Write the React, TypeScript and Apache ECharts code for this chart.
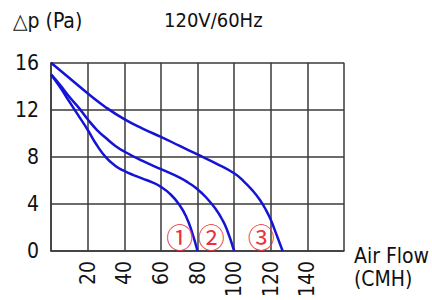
import React, { useEffect, useRef } from "react";
import * as echarts from "echarts";

const FONT = '"DejaVu Sans Condensed", "Liberation Sans", sans-serif';

const yTitle = "△p (Pa)";
const chartTitle = "120V/60Hz";
const xTitle = "Air Flow\n(CMH)";

const xTicks = [0, 20, 40, 60, 80, 100, 120, 140, 160];
const yTicks = [0, 4, 8, 12, 16];

// Curve 1 (lowest speed)
const curve1: [number, number][] = [
  [0, 15.0], [5, 13.9], [10, 12.7], [15, 11.5], [20, 10.3], [25, 9.0], [30, 7.95],
  [35, 7.25], [40, 6.8], [45, 6.45], [50, 6.15], [55, 5.85], [60, 5.45], [65, 4.85],
  [70, 3.95], [74, 2.85], [77, 1.6], [80, 0],
];
// Curve 2 (medium speed)
const curve2: [number, number][] = [
  [0, 15.0], [5, 14.1], [10, 13.1], [15, 12.2], [20, 11.2], [25, 10.3], [30, 9.6],
  [35, 8.95], [40, 8.45], [50, 7.65], [60, 6.95], [70, 6.25], [75, 5.8], [80, 5.25],
  [85, 4.5], [90, 3.55], [93, 2.8], [96, 1.85], [100, 0],
];
// Curve 3 (high speed)
const curve3: [number, number][] = [
  [0, 16.0], [10, 14.7], [20, 13.4], [30, 12.2], [40, 11.2], [50, 10.4], [60, 9.7],
  [70, 8.95], [80, 8.2], [90, 7.45], [100, 6.6], [105, 5.95], [110, 5.15], [114, 4.35],
  [117.5, 3.45], [120, 2.65], [123, 1.45], [126.5, 0],
];

const markers = [
  { name: "①", coord: [70.3, 1.25] },
  { name: "②", coord: [87.5, 1.25] },
  { name: "③", coord: [114.8, 1.25] },
];

const BLUE = "#1414d4";
const GRID = "#3a3a3a";

export default function App() {
  const ref = useRef<HTMLDivElement>(null);
  useEffect(() => {
    if (!ref.current) return;
    const chart = echarts.init(ref.current, null, { renderer: "svg" });
    const lineSeries = (data: [number, number][], withMarks: boolean) => ({
      type: "line",
      data,
      smooth: 0.5,
      symbol: "none",
      clip: false,
      lineStyle: { color: BLUE, width: 2.5 },
      ...(withMarks
        ? {
            markPoint: {
              symbol: "circle",
              symbolSize: 0,
              label: {
                show: true,
                position: "inside",
                formatter: (p: any) => p.name,
                color: "#e8323c",
                fontSize: 27,
                fontFamily: '"Noto Sans CJK JP", sans-serif',
              },
              data: markers.map((m) => ({ name: m.name, coord: m.coord })),
            },
          }
        : {}),
    });
    chart.setOption({
      animation: false,
      backgroundColor: "#ffffff",
      grid: { left: 51, right: 88, top: 62.7, bottom: 43.3, containLabel: false },
      xAxis: {
        type: "value",
        min: xTicks[0],
        max: xTicks[xTicks.length - 1],
        interval: 20,
        axisLine: { show: true, lineStyle: { color: GRID, width: 1.5 } },
        axisTick: { show: false },
        splitLine: { show: true, lineStyle: { color: GRID, width: 1.5 } },
        axisLabel: {
          rotate: 90,
          margin: 10,
          color: "#111",
          fontSize: 21,
          fontFamily: FONT,
          formatter: (v: number) => (v === xTicks[0] || v === xTicks[xTicks.length - 1] ? "" : String(v)),
        },
      },
      yAxis: {
        type: "value",
        min: yTicks[0],
        max: yTicks[yTicks.length - 1],
        interval: 4,
        axisLine: { show: true, lineStyle: { color: GRID, width: 1.5 } },
        axisTick: { show: false },
        splitLine: { show: true, lineStyle: { color: GRID, width: 1.5 } },
        axisLabel: {
          margin: 12,
          color: "#111",
          fontSize: 21,
          fontFamily: FONT,
        },
      },
      graphic: [
        {
          type: "text",
          left: 13,
          top: 10,
          style: { text: yTitle, fontSize: 21, fontFamily: FONT, fill: "#111" },
        },
        {
          type: "text",
          left: 164,
          top: 10,
          style: { text: chartTitle, fontSize: 20, fontFamily: FONT, fill: "#111" },
        },
        {
          type: "text",
          left: 354,
          top: 244,
          style: { text: xTitle, fontSize: 21, lineHeight: 23, fontFamily: FONT, fill: "#111" },
        },
      ],
      series: [lineSeries(curve1, true), lineSeries(curve2, false), lineSeries(curve3, false)],
    });
    return () => chart.dispose();
  }, []);
  return <div ref={ref} style={{ width: 432, height: 300, position: "absolute", left: 0, top: 0 }} />;
}
